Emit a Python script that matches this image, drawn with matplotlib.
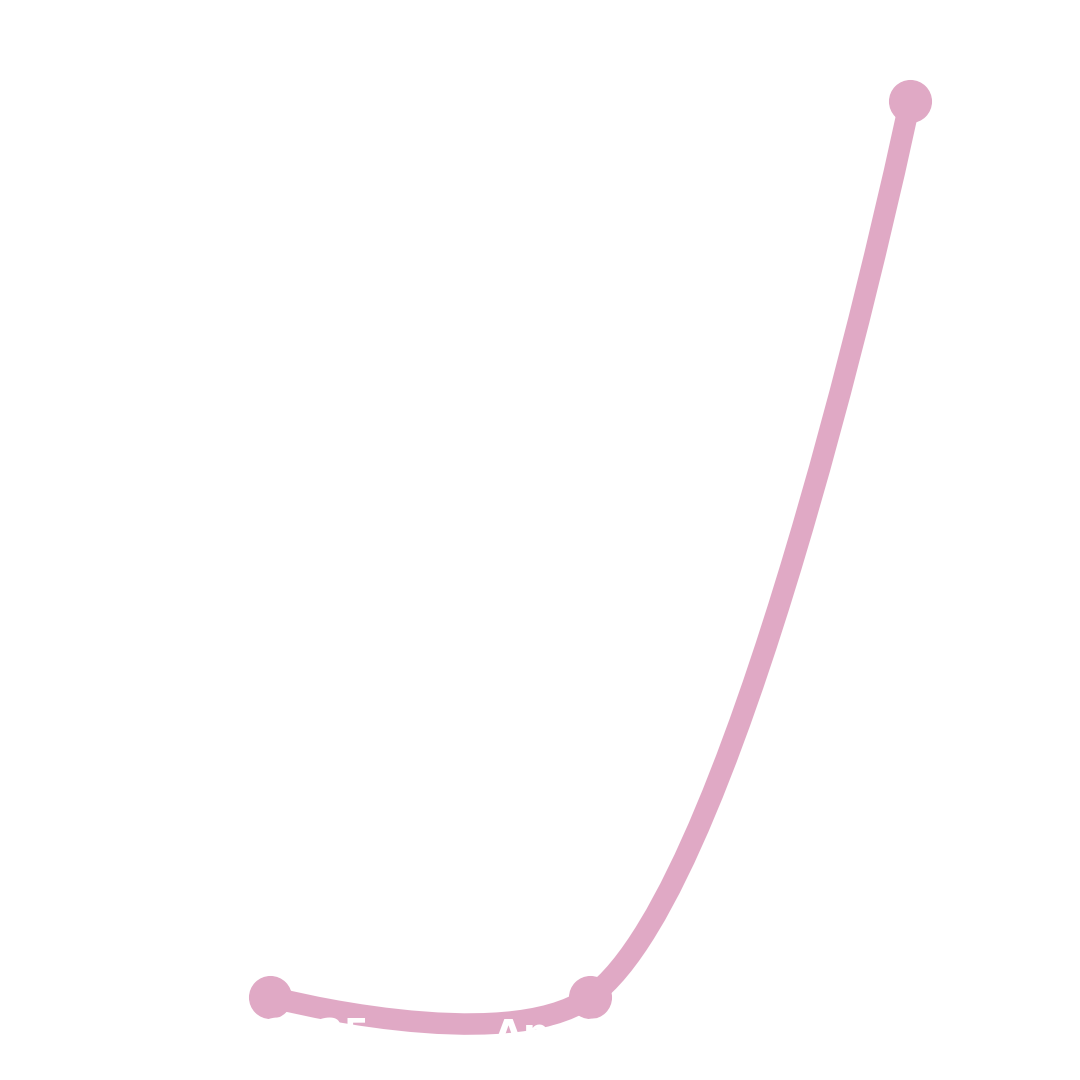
import numpy as np
import matplotlib
matplotlib.use("Agg")
from matplotlib import pyplot as plt
from matplotlib.path import Path
from matplotlib.patches import PathPatch

# data
months = ["Mar 2025", "Apr 2025", "May 2025"]
values = [0, 0, 100]

line_color = "#E0A9C5"

fig = plt.figure(figsize=(10.8, 10.8), dpi=100)
fig.patch.set_facecolor("white")
ax = fig.add_axes([110 / 1080, 83 / 1080, 960 / 1080, 896 / 1080])
ax.set_xlim(-0.5, len(months) - 0.5)
ax.set_ylim(min(values), max(values))

x = np.arange(len(months))
y = np.array(values, dtype=float)

# smooth curve through the points (bezier, tangents worked out in pixel space)
pts = ax.transData.transform(np.column_stack([x, y]))
n = len(pts)
tang = np.zeros_like(pts)
for i in range(1, n - 1):
    u1 = (pts[i] - pts[i - 1]) / np.linalg.norm(pts[i] - pts[i - 1])
    u2 = (pts[i + 1] - pts[i]) / np.linalg.norm(pts[i + 1] - pts[i])
    t = u1 + u2
    tang[i] = t / np.linalg.norm(t)

verts = [pts[0]]
codes = [Path.MOVETO]
for i in range(1, n):
    seg = np.linalg.norm(pts[i] - pts[i - 1])
    c0 = pts[i - 1] + 0.2 * seg * tang[i - 1]
    c1 = pts[i] - 0.33 * seg * tang[i]
    verts += [c0, c1, pts[i]]
    codes += [Path.CURVE4] * 3
verts = ax.transData.inverted().transform(np.array(verts))
curve = PathPatch(Path(verts, codes), facecolor="none", edgecolor=line_color,
                  lw=15.5, capstyle="round", joinstyle="round", clip_on=False)
ax.add_patch(curve)

ax.plot(x, y, "o", color=line_color, markersize=30, clip_on=False)

ax.set_xticks(x, months)
ax.set_yticks([])
ax.tick_params(axis="x", length=0, pad=15, labelcolor="white", labelsize=27)
for lbl in ax.get_xticklabels():
    lbl.set_fontweight("bold")
ax.set_axisbelow(False)
for s in ax.spines.values():
    s.set_visible(False)
ax.set_facecolor("none")

fig.savefig("out.png", dpi=100, facecolor="white")
